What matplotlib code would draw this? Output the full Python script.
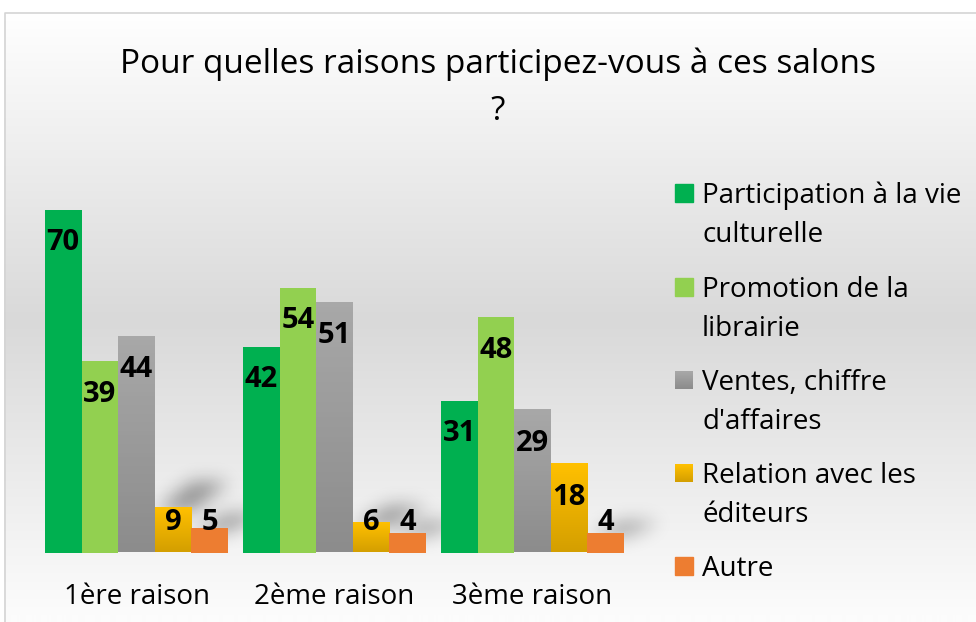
import numpy as np
import matplotlib.pyplot as plt
from matplotlib.patches import Rectangle
from matplotlib.path import Path
from matplotlib.colors import LinearSegmentedColormap

plt.rcParams['font.family'] = ['Open Sans', 'DejaVu Sans']

# data
categories = ["1ère raison", "2ème raison", "3ème raison"]
series_names = ["Participation à la vie\nculturelle", "Promotion de la\nlibrairie",
                "Ventes, chiffre\nd'affaires", "Relation avec les\néditeurs", "Autre"]
participation = [70, 42, 31]
promotion = [39, 54, 48]
ventes = [44, 51, 29]
relation = [9, 6, 18]
autre = [5, 4, 4]
all_series = [participation, promotion, ventes, relation, autre]

# colours: (top, bottom) of each bar fill
colors = [("#00b050", "#00b050"), ("#92d050", "#92d050"), ("#a8a8a8", "#8c8c8c"),
          ("#ffc000", "#d49f00"), ("#ed7d31", "#ed7d31")]

W, H = 976, 622
fig = plt.figure(figsize=(W / 100, H / 100), dpi=100)

# background: white -> grey -> white, Excel style
bg = fig.add_axes([0, 0, 1, 1], zorder=-10)
ypix = np.arange(H)
shade = np.interp(ypix, [12, 320, 615], [255, 217, 252]) / 255.0
img = np.repeat(shade[:, None], 2, axis=1)
img = np.dstack([img, img, img])
img[:12, :, :] = 1.0
bg.imshow(img, extent=[0, W, H, 0], aspect='auto', interpolation='bilinear')
bg.imshow(np.ones((2, 2, 3)), extent=[0, 4, H, 0], aspect='auto')
bg.plot([4.5, 4.5, W], [H, 12.5, 12.5], color="#d4d4d4", lw=1.2)

ax = fig.add_axes([37.5 / W, 69.5 / H, 594 / W, 392 / H])
ax.set_facecolor('none')
ax.set_xlim(-0.5, 2.5)
ax.set_ylim(0, 80)
x = np.arange(len(categories))
w = 0.185

shadow_mask = np.zeros((H, W))
yy, xx = np.mgrid[0:H, 0:W]
grid = np.c_[xx.ravel(), yy.ravel()]

for j, vals in enumerate(all_series):
    top_c, bot_c = colors[j]
    pos = x + (j - 2) * w
    bars = ax.bar(pos, vals, width=w, color=top_c, zorder=2)
    if top_c != bot_c:
        cmap = LinearSegmentedColormap.from_list("g%d" % j, [bot_c, top_c])
        for rect in bars:
            rect.set_facecolor('none')
            x0, y0 = rect.get_x(), rect.get_y()
            ax.imshow(np.linspace(0, 1, 50)[::-1, None], cmap=cmap, aspect='auto',
                      extent=[x0, x0 + rect.get_width(), y0, y0 + rect.get_height()],
                      zorder=2)
    for rect, v in zip(bars, vals):
        # soft perspective shadow behind the short bars
        if v < 10:
            (L, B), (R, T) = ax.transData.transform(
                [(rect.get_x(), 0), (rect.get_x() + rect.get_width(), v)])
            B, T = H - B, H - T
            bh = B - T
            dx = 1.0 * (R - L)
            poly = Path([(L, T + 2), (R, T + 2), (R + dx, T - 0.6 * bh),
                         (L + dx, T - 0.6 * bh)])
            inside = poly.contains_points(grid).reshape(H, W)
            shadow_mask = np.maximum(shadow_mask, inside.astype(float))
    for xi, v in zip(pos, vals):
        ax.text(xi, max(v - 6.7, 6.1), str(v), ha='center', va='center',
                fontsize=21, fontweight='bold', color='black', zorder=3)

# gaussian blur of the shadow mask
k = np.exp(-0.5 * (np.arange(-27, 28) / 9.0) ** 2)
k /= k.sum()
blur = np.apply_along_axis(lambda r: np.convolve(r, k, mode='same'), 1, shadow_mask)
blur = np.apply_along_axis(lambda c: np.convolve(c, k, mode='same'), 0, blur)
rgba = np.zeros((H, W, 4))
rgba[..., 3] = 0.4 * blur
bg.imshow(rgba, extent=[0, W, H, 0], aspect='auto', zorder=1)
bg.set_xlim(0, W)
bg.set_ylim(H, 0)
bg.axis('off')

ax.set_xticks(x)
ax.set_xticklabels(categories, fontsize=20)
ax.tick_params(axis='x', length=0, pad=22)
ax.set_yticks([])
for s in ax.spines.values():
    s.set_visible(False)

fig.text(498 / W, 1 - 64 / H, "Pour quelles raisons participez-vous à ces salons",
         ha='center', va='center', fontsize=24)
fig.text(498 / W, 1 - 111 / H, "?", ha='center', va='center', fontsize=24)

# legend drawn by hand
legend_y = [193, 287, 380, 473, 566]
for j, name in enumerate(series_names):
    top_c, bot_c = colors[j]
    yc = legend_y[j]
    if top_c == bot_c:
        fig.patches.append(Rectangle((675 / W, 1 - (yc + 9) / H), 18 / W, 18 / H,
                                     transform=fig.transFigure, color=top_c))
    else:
        cmap = LinearSegmentedColormap.from_list("l%d" % j, [bot_c, top_c])
        lax = fig.add_axes([675 / W, 1 - (yc + 9) / H, 18 / W, 18 / H])
        lax.imshow(np.linspace(0, 1, 20)[::-1, None], cmap=cmap, aspect='auto')
        lax.axis('off')
    for k2, line in enumerate(name.split("\n")):
        fig.text(702 / W, 1 - (yc + 10 + 39 * k2) / H, line, ha='left', va='baseline',
                 fontsize=20)

fig.savefig("out.png", dpi=100)
